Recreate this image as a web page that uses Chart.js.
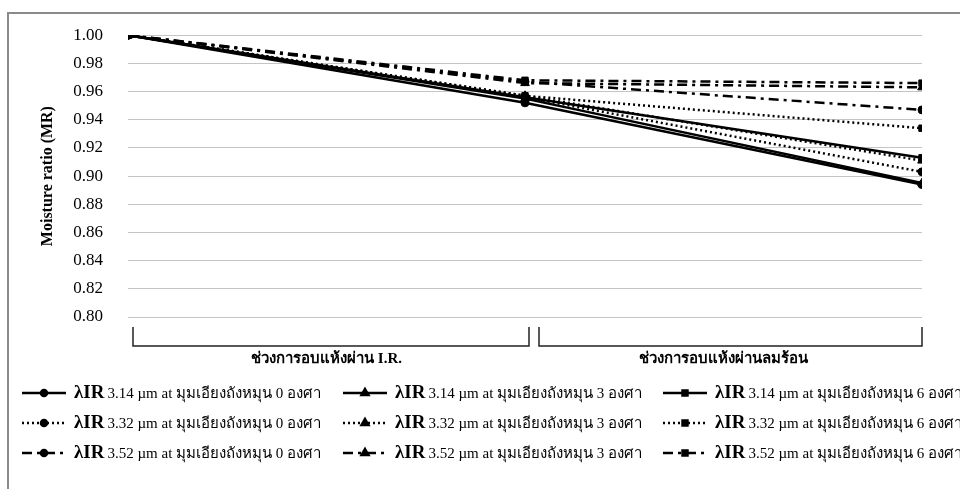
<!DOCTYPE html>
<html>
<head>
<meta charset="utf-8">
<script src="https://cdn.jsdelivr.net/npm/chart.js@4.4.1/dist/chart.umd.min.js"></script>
<style>
  html, body { margin: 0; padding: 0; background: #fff; overflow: hidden; }
  #wrap { position: absolute; left: 0; top: 0; width: 960px; height: 489px; }
  #frame { position: absolute; left: 7px; top: 12px; width: 980px; height: 500px;
           border-left: 2px solid #8a8a8a; border-top: 2px solid #8a8a8a; }
</style>
</head>
<body>
<div id="wrap">
  <div id="frame"></div>
  <canvas id="mrChart" width="960" height="489"></canvas>
</div>
<script>
// x positions: start, end of I.R. drying, end of hot-air drying
const stages = [0, 1, 2];

// drying periods shown under the axis
const groupLabels = ['ช่วงการอบแห้งผ่าน I.R.', 'ช่วงการอบแห้งผ่านลมร้อน'];
const groupStart = [0, 1];
const groupEnd = [1, 2];

// y ticks
const yMin = 0.80;
const yMax = 1.00;
const yStep = 0.02;

// series (wavelength / tilt angle)
const wavelengths = ['3.14', '3.32', '3.52'];
const angles = ['0', '3', '6'];

const mr_314_0 = [1.000, 0.952, 0.894];
const mr_314_3 = [1.000, 0.955, 0.895];
const mr_314_6 = [1.000, 0.956, 0.913];
const mr_332_0 = [1.000, 0.956, 0.903];
const mr_332_3 = [1.000, 0.957, 0.911];
const mr_332_6 = [1.000, 0.957, 0.934];
const mr_352_0 = [1.000, 0.967, 0.947];
const mr_352_3 = [1.000, 0.966, 0.963];
const mr_352_6 = [1.000, 0.968, 0.966];

const seriesValues = [
  mr_314_0, mr_314_3, mr_314_6,
  mr_332_0, mr_332_3, mr_332_6,
  mr_352_0, mr_352_3, mr_352_6
];

// styling per wavelength (line) and angle (marker)
const dashByWave = [[], [2, 3], [10, 5, 3, 5]];
const markerByAngle = ['circle', 'triangle', 'rect'];
const radiusByAngle = [4, 5, 4.5];

const serif = "'Liberation Serif', 'DejaVu Serif', serif";

const datasets = [];
wavelengths.forEach((w, wi) => {
  angles.forEach((a, ai) => {
    const vals = seriesValues[wi * 3 + ai];
    datasets.push({
      label: 'λIR ' + w + ' µm at มุมเอียงถังหมุน ' + a + ' องศา',
      wave: w,
      angle: a,
      data: stages.map((x, i) => ({ x: x, y: vals[i] })),
      borderColor: '#000',
      backgroundColor: '#000',
      borderWidth: 2.5,
      borderDash: dashByWave[wi],
      pointStyle: markerByAngle[ai],
      pointRadius: radiusByAngle[ai],
      pointBorderWidth: 1,
      tension: 0,
      fill: false
    });
  });
});

// brackets + custom legend (mixed bold / regular text)
const decorPlugin = {
  id: 'decor',
  afterDraw(chart) {
    const ctx = chart.ctx;
    const xs = chart.scales.x;
    const bottom = chart.chartArea.bottom;
    ctx.save();
    ctx.strokeStyle = '#222';
    ctx.lineWidth = 1.5;
    groupLabels.forEach((g, i) => {
      const x0 = xs.getPixelForValue(groupStart[i]) + (i === 0 ? 5 : 14);
      const x1 = xs.getPixelForValue(groupEnd[i]) + (i === 0 ? 4 : 0);
      ctx.beginPath();
      ctx.moveTo(x0, bottom + 10);
      ctx.lineTo(x0, bottom + 29);
      ctx.lineTo(x1, bottom + 29);
      ctx.lineTo(x1, bottom + 10);
      ctx.stroke();
    });

    // legend
    const colX = [22, 343, 663];
    const rowY = [393, 423, 453];
    chart.data.datasets.forEach((ds, i) => {
      const cx = colX[i % 3];
      const cy = rowY[Math.floor(i / 3)];
      ctx.strokeStyle = '#000';
      ctx.fillStyle = '#000';
      ctx.lineWidth = 2.5;
      ctx.setLineDash(ds.borderDash);
      ctx.beginPath();
      ctx.moveTo(cx, cy);
      ctx.lineTo(cx + 44, cy);
      ctx.stroke();
      ctx.setLineDash([]);
      Chart.helpers.drawPoint(ctx, {
        pointStyle: ds.pointStyle, radius: ds.pointRadius - 1, borderWidth: 1
      }, cx + 22, cy);
      ctx.fill();
      ctx.textBaseline = 'middle';
      ctx.textAlign = 'left';
      ctx.font = 'bold 19px ' + serif;
      ctx.fillText('λIR', cx + 52, cy);
      const w = ctx.measureText('λIR').width;
      ctx.font = '15px ' + serif;
      ctx.fillText(ds.wave + ' µm at มุมเอียงถังหมุน ' + ds.angle + ' องศา', cx + 55 + w, cy + 1);
    });
    ctx.restore();
  }
};

const ctx = document.getElementById('mrChart').getContext('2d');
const mrChart = new Chart(ctx, {
  type: 'line',
  data: { datasets: datasets },
  options: {
    responsive: false,
    animation: false,
    layout: { padding: { top: 35, right: 38, left: 0, bottom: 0 } },
    plugins: {
      legend: { display: false },
      tooltip: { enabled: false }
    },
    scales: {
      x: {
        type: 'linear',
        min: stages[0],
        max: stages[stages.length - 1],
        grid: { display: false, drawTicks: false },
        border: { display: false },
        afterBuildTicks: (scale) => {
          scale.ticks = groupStart.map((s, i) => ({ value: (s + groupEnd[i]) / 2 }));
        },
        afterFit: (scale) => { scale.height = 172; },
        ticks: {
          padding: 33,
          maxRotation: 0,
          autoSkip: false,
          color: '#000',
          font: { family: serif, size: 15, weight: 'bold' },
          callback: (v) => {
            const i = groupStart.findIndex((s, k) => (s + groupEnd[k]) / 2 === v);
            return i >= 0 ? groupLabels[i] : '';
          }
        }
      },
      y: {
        min: yMin,
        max: yMax,
        grid: { color: '#c4c4c4', lineWidth: 1, drawTicks: false },
        border: { display: false },
        afterFit: (scale) => { scale.width = 128; },
        ticks: {
          stepSize: yStep,
          padding: 25,
          color: '#000',
          font: { family: serif, size: 17 },
          callback: (v) => v.toFixed(2)
        },
        title: {
          display: true,
          text: 'Moisture ratio (MR)',
          color: '#000',
          font: { family: serif, size: 16, weight: 'bold' },
          padding: { top: 38, bottom: 0 }
        }
      }
    }
  },
  plugins: [decorPlugin]
});
</script>
</body>
</html>
